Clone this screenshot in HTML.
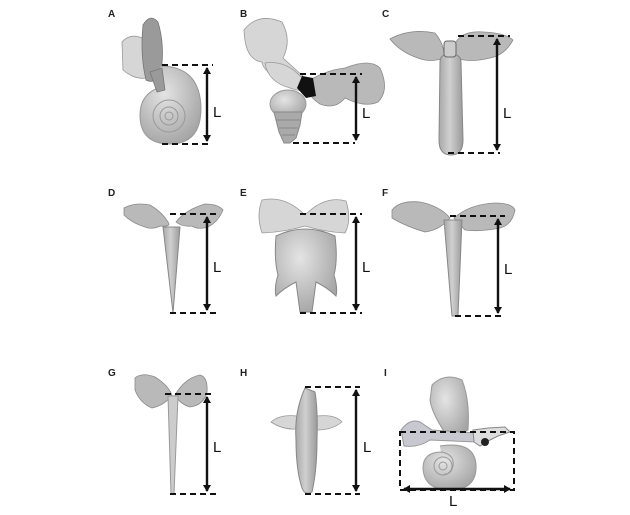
<!DOCTYPE html>
<html><head><meta charset="utf-8"><style>
html,body{margin:0;padding:0;background:#fff;}
svg{display:block;}
text{font-family:"Liberation Sans",sans-serif;}
.lab{font-size:10px;font-weight:bold;fill:#222;}
.L{font-size:15px;fill:#111;}
.d{stroke:#111;stroke-width:2;stroke-dasharray:6,4;fill:none;}
.a{stroke:#111;stroke-width:2.4;fill:none;}
.g{fill:#b9b9b9;stroke:#8a8a8a;stroke-width:0.8;}
.gl{fill:#d6d6d6;stroke:#999;stroke-width:0.8;}
.gd{fill:#9a9a9a;stroke:#777;stroke-width:0.8;}
</style></head><body>
<svg width="630" height="515" viewBox="0 0 630 515" xmlns="http://www.w3.org/2000/svg">
<defs>
<marker id="ah" markerWidth="8" markerHeight="8" refX="6" refY="4" orient="auto" markerUnits="userSpaceOnUse"><path d="M0,0 L7,4 L0,8 z" fill="#111"/></marker>
<marker id="at" markerWidth="8" markerHeight="8" refX="1" refY="4" orient="auto" markerUnits="userSpaceOnUse"><path d="M7,0 L0,4 L7,8 z" fill="#111"/></marker>
<radialGradient id="sh" cx="0.4" cy="0.35" r="0.7"><stop offset="0" stop-color="#e4e4e4"/><stop offset="1" stop-color="#a4a4a4"/></radialGradient>
<linearGradient id="bd" x1="0" x2="1"><stop offset="0" stop-color="#a8a8a8"/><stop offset="0.45" stop-color="#d0d0d0"/><stop offset="1" stop-color="#9a9a9a"/></linearGradient>
</defs>

<!-- A -->
<text class="lab" x="108" y="17">A</text>
<path class="gl" d="M122,42 Q130,33 142,38 L146,78 Q135,80 123,70 Z"/>
<path class="gd" d="M143,25 Q150,13 158,22 Q165,45 161,72 Q155,85 146,80 Q140,55 143,25 Z"/>
<path fill="url(#sh)" stroke="#999" d="M160,66 Q200,66 201,108 Q201,144 170,144 Q140,144 140,115 Q140,95 158,88 Z"/>
<circle cx="169" cy="116" r="16" fill="none" stroke="#999"/>
<circle cx="169" cy="116" r="9" fill="none" stroke="#999"/>
<circle cx="169" cy="116" r="4" fill="none" stroke="#999"/>
<path class="gd" d="M150,72 L162,68 L165,90 L157,92 Z"/>
<line class="d" x1="162" y1="65" x2="213" y2="65"/><line class="d" x1="162" y1="144" x2="212" y2="144"/>
<line class="a" x1="207" y1="68" x2="207" y2="141" marker-start="url(#at)" marker-end="url(#ah)"/>
<text class="L" x="213" y="117">L</text>

<!-- B -->
<text class="lab" x="240" y="17">B</text>
<path class="gl" d="M244,30 Q258,12 282,22 Q292,40 283,58 L305,78 Q300,90 285,85 Q262,70 262,62 Q245,60 244,30 Z"/>
<path class="gl" d="M265,63 Q285,60 300,76 L315,84 Q310,95 290,88 Q268,82 265,63 Z"/>
<path class="g" d="M303,84 Q325,70 345,68 Q370,58 380,68 Q390,90 378,102 Q365,108 345,98 Q335,110 320,104 Q310,98 303,84 Z"/>
<path fill="#111" d="M302,76 L313,78 L316,96 L306,98 L297,88 Z"/>
<ellipse cx="288" cy="104" rx="18" ry="14" fill="url(#sh)" stroke="#999"/>
<path fill="#aaa" stroke="#888" d="M274,112 L302,112 L300,125 L296,138 L290,143 L284,143 L279,132 Z"/>
<path stroke="#888" fill="none" d="M276,120 H300 M279,128 H298 M282,135 H295"/>
<line class="d" x1="300" y1="74" x2="362" y2="74"/><line class="d" x1="293" y1="143" x2="355" y2="143"/>
<line class="a" x1="356" y1="77" x2="356" y2="140" marker-start="url(#at)" marker-end="url(#ah)"/>
<text class="L" x="362" y="118">L</text>

<!-- C -->
<text class="lab" x="382" y="17">C</text>
<path class="g" d="M390,39 Q410,28 435,33 Q445,45 444,58 Q430,63 418,58 Q400,52 390,39 Z"/>
<path class="g" d="M454,46 Q460,30 484,32 Q505,33 513,40 Q505,55 490,58 Q470,63 456,58 Z"/>
<path fill="url(#bd)" stroke="#888" d="M440,62 Q440,54 450,54 Q461,54 461,62 L463,140 Q463,155 451,155 Q439,155 439,140 Z"/>
<rect x="444" y="41" width="12" height="16" rx="3" fill="#ccc" stroke="#666"/>
<line class="d" x1="458" y1="36" x2="510" y2="36"/><line class="d" x1="448" y1="153" x2="500" y2="153"/>
<line class="a" x1="497" y1="39" x2="497" y2="150" marker-start="url(#at)" marker-end="url(#ah)"/>
<text class="L" x="503" y="118">L</text>

<!-- D -->
<text class="lab" x="108" y="196">D</text>
<path class="g" d="M124,208 Q135,202 150,205 Q162,212 168,222 Q172,227 160,226 Q152,230 145,227 Q132,223 124,215 Z"/>
<path class="g" d="M176,222 Q185,210 205,204 Q218,204 223,210 Q218,222 208,227 Q198,230 192,226 Q182,227 176,222 Z"/>
<path fill="url(#bd)" stroke="#888" d="M163,227 L180,227 L173,313 Z"/>
<line class="d" x1="170" y1="214" x2="220" y2="214"/><line class="d" x1="170" y1="313" x2="220" y2="313"/>
<line class="a" x1="207" y1="217" x2="207" y2="310" marker-start="url(#at)" marker-end="url(#ah)"/>
<text class="L" x="213" y="272">L</text>

<!-- E -->
<text class="lab" x="240" y="196">E</text>
<path class="gl" stroke="#666" d="M262,200 Q285,195 305,215 Q325,195 346,201 Q352,220 345,233 Q325,232 305,226 Q285,232 262,233 Q256,215 262,200 Z"/>
<path fill="url(#sh)" stroke="#888" d="M276,236 Q305,222 335,236 Q338,260 334,275 Q338,288 336,296 Q328,288 316,282 L312,312 L300,312 L296,282 Q284,288 276,296 Q274,288 278,275 Q274,260 276,236 Z"/>
<line class="d" x1="300" y1="214" x2="362" y2="214"/><line class="d" x1="300" y1="313" x2="362" y2="313"/>
<line class="a" x1="356" y1="217" x2="356" y2="310" marker-start="url(#at)" marker-end="url(#ah)"/>
<text class="L" x="362" y="272">L</text>

<!-- F -->
<text class="lab" x="382" y="196">F</text>
<path class="g" d="M392,210 Q400,200 420,202 Q440,206 450,218 Q440,230 425,232 Q405,226 392,218 Z"/>
<path class="g" d="M454,218 Q470,204 495,203 Q512,203 515,210 Q512,225 500,228 Q480,232 465,230 Z"/>
<path fill="url(#bd)" stroke="#888" d="M444,220 L462,220 L458,316 L452,316 Z"/>
<line class="d" x1="450" y1="216" x2="505" y2="216"/><line class="d" x1="455" y1="316" x2="505" y2="316"/>
<line class="a" x1="498" y1="219" x2="498" y2="313" marker-start="url(#at)" marker-end="url(#ah)"/>
<text class="L" x="504" y="274">L</text>

<!-- G -->
<text class="lab" x="108" y="376">G</text>
<path class="g" d="M135,378 Q142,372 155,377 Q168,385 172,395 Q165,405 152,408 Q140,403 135,390 Z"/>
<path class="g" d="M175,395 Q185,378 200,375 Q208,377 207,392 Q204,405 190,407 Q180,404 175,395 Z"/>
<path fill="#ccc" stroke="#999" d="M168,396 L178,396 L174,494 L171,494 Z"/>
<line class="d" x1="165" y1="394" x2="215" y2="394"/><line class="d" x1="170" y1="494" x2="220" y2="494"/>
<line class="a" x1="207" y1="397" x2="207" y2="491" marker-start="url(#at)" marker-end="url(#ah)"/>
<text class="L" x="213" y="452">L</text>

<!-- H -->
<text class="lab" x="240" y="376">H</text>
<path class="gl" d="M271,422 Q280,414 297,416 L297,429 Q283,430 271,422 Z"/>
<path class="gl" d="M317,416 Q335,414 342,422 Q332,430 317,430 Z"/>
<path fill="url(#bd)" stroke="#888" d="M305,388 L315,392 Q318,410 317,440 Q317,470 312,492 Q305,496 302,488 Q296,470 296,440 Q294,412 305,388 Z"/>
<line class="d" x1="305" y1="387" x2="360" y2="387"/><line class="d" x1="305" y1="494" x2="360" y2="494"/>
<line class="a" x1="356" y1="390" x2="356" y2="491" marker-start="url(#at)" marker-end="url(#ah)"/>
<text class="L" x="363" y="452">L</text>

<!-- I -->
<text class="lab" x="384" y="376">I</text>
<path fill="url(#sh)" stroke="#999" d="M432,385 Q445,372 462,380 Q470,400 468,430 L450,440 Q432,415 430,400 Z"/>
<path fill="#c8c8d0" stroke="#999" d="M401,430 Q410,418 420,422 L432,430 L476,433 L476,442 L430,440 Q418,448 404,446 Z"/>
<path fill="url(#sh)" stroke="#999" d="M440,446 Q478,440 476,470 Q474,490 450,490 Q424,490 423,468 Q423,452 442,452 Q455,455 453,466 Q451,475 444,474"/>
<circle cx="443" cy="466" r="9" fill="none" stroke="#999"/>
<circle cx="443" cy="466" r="4" fill="none" stroke="#999"/>
<path fill="#ddd" stroke="#888" d="M473,430 L488,428 L505,427 L510,432 L498,436 L490,440 L480,446 L474,442 Z"/>
<circle cx="485" cy="442" r="4" fill="#222"/>
<rect class="d" x="400" y="432" width="114" height="58"/>
<line class="a" x1="404" y1="489" x2="510" y2="489" marker-start="url(#at)" marker-end="url(#ah)"/>
<text class="L" x="449" y="506">L</text>
</svg>
</body></html>
